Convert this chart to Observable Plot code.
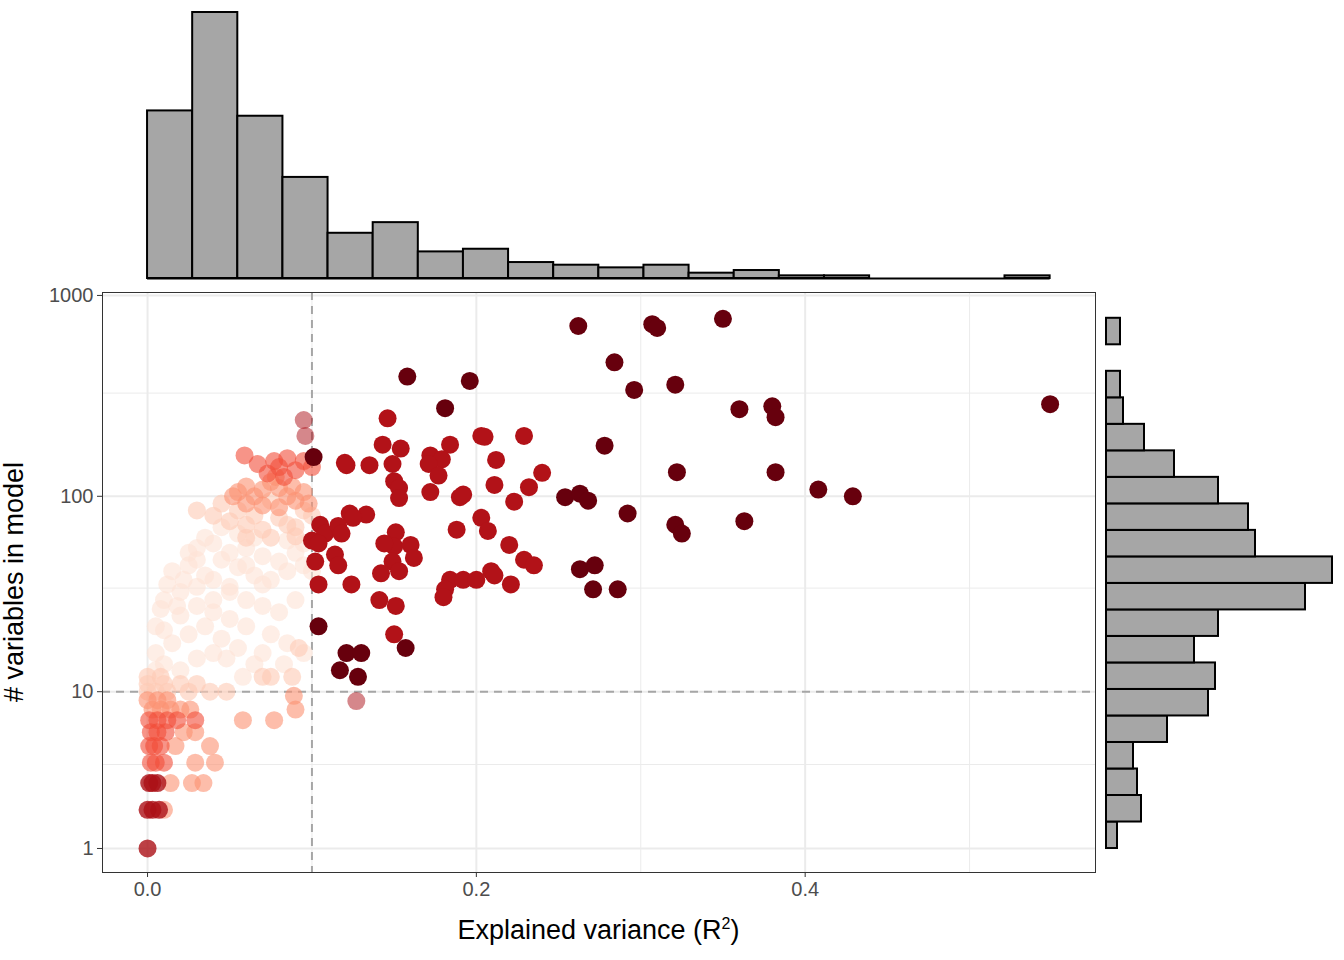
<!DOCTYPE html>
<html><head><meta charset="utf-8">
<script src="https://cdn.jsdelivr.net/npm/d3@7"></script>
<script src="https://cdn.jsdelivr.net/npm/@observablehq/plot@0.6"></script>
<style>
body{margin:0;background:#fff;font-family:"Liberation Sans",Arial,sans-serif;}
#c{position:relative;width:1344px;height:960px;}
#c svg{position:absolute;overflow:visible;}
</style></head><body><div id="c"></div>
<script>
// points [x, y]
const darkPts = [[0.262,705],[0.307,720],[0.310,690],[0.350,765],[0.284,465],[0.158,395],[0.196,376],[0.296,339],[0.321,360],[0.360,272],[0.380,281],[0.382,248],[0.549,288],[0.181,275],[0.322,132],[0.382,132],[0.408,108],[0.429,100],[0.292,82],[0.321,72],[0.325,65],[0.363,75],[0.263,43],[0.272,45],[0.271,34],[0.286,34],[0.278,179],[0.254,99],[0.263,103],[0.268,95],[0.104,22],[0.157,17],[0.121,16],[0.130,16],[0.117,13],[0.128,12],[0.101,157]];
const redPts = [[0.146,245],[0.229,200],[0.203,200],[0.205,198],[0.143,181],[0.154,173],[0.184,181],[0.120,147],[0.121,143],[0.135,143],[0.149,145],[0.172,160],[0.179,153],[0.171,145],[0.212,152],[0.240,131],[0.150,119],[0.153,110],[0.177,127],[0.211,114],[0.232,111],[0.153,98],[0.172,105],[0.190,99],[0.192,102],[0.223,94],[0.123,82],[0.133,81],[0.125,78],[0.105,72],[0.108,65],[0.116,71],[0.118,65],[0.203,78],[0.207,67],[0.188,68],[0.151,66],[0.150,56],[0.160,57],[0.144,58],[0.220,57],[0.100,60],[0.104,58],[0.114,51],[0.162,49],[0.229,48],[0.235,45],[0.149,47],[0.102,47],[0.116,45],[0.153,42],[0.209,42],[0.211,40],[0.142,41],[0.104,36],[0.124,36],[0.184,38],[0.192,38],[0.200,38],[0.221,36],[0.181,34],[0.180,31],[0.141,30],[0.151,28],[0.150,20]];
const mauvePts = [[0.127,8.9],[0.095,240],[0.096,200]];
const palePts = [[0.005,13],[0.01,14],[0.02,13],[0.03,15],[0.04,16],[0.015,18],[0.025,20],[0.035,22],[0.045,19],[0.055,17],[0.065,14],[0.07,16],[0.005,16],[0.01,21],[0.02,25],[0.03,28],[0.04,26],[0.05,24],[0.06,22],[0.075,20],[0.085,18],[0.095,16],[0.01,30],[0.02,33],[0.03,35],[0.04,38],[0.05,33],[0.06,30],[0.07,28],[0.08,26],[0.09,30],[0.015,42],[0.025,45],[0.035,40],[0.045,48],[0.055,44],[0.065,40],[0.075,38],[0.085,42],[0.095,45],[0.03,55],[0.04,58],[0.05,52],[0.06,55],[0.07,50],[0.08,47],[0.09,52],[0.055,65],[0.045,70],[0.065,62],[0.035,62],[0.025,52],[0.012,36],[0.008,27],[0.018,28],[0.1,42],[0.095,58],[0.085,60],[0.04,30],[0.05,35],[0.06,45],[0.07,36],[0.03,48],[0.022,38],[0.005,22],[0.048,15],[0.058,12],[0.083,14]];
const lightPts = [[0.03,85],[0.04,80],[0.05,75],[0.06,72],[0.07,68],[0.08,78],[0.095,85],[0.1,80],[0.09,70],[0.045,92],[0.055,85],[0.065,80],[0.075,95],[0.06,62],[0.075,62],[0.09,63],[0.085,72],[0.0,11],[0.01,11],[0.02,11],[0.03,11],[0.0,12],[0.008,12],[0.07,12],[0.075,12],[0.088,12],[0.092,17],[0.012,10],[0.025,10],[0.038,10],[0.048,10],[0.0,10],[0.005,10]];
const salmonPts = [[0.055,105],[0.06,112],[0.065,100],[0.07,108],[0.075,118],[0.08,110],[0.085,100],[0.09,95],[0.095,105],[0.06,92],[0.07,90],[0.08,88],[0.088,112],[0.098,92],[0.052,100],[0.078,125],[0.003,8],[0.008,8],[0.014,8],[0.02,8],[0.026,8],[0.09,8],[0.0,9],[0.006,9],[0.012,9],[0.089,9.5],[0.058,7],[0.077,7],[0.017,5],[0.038,5],[0.022,6],[0.029,6],[0.029,4],[0.041,4],[0.014,3],[0.027,3],[0.034,3],[0.01,2]];
const redLeftPts = [[0.059,160],[0.067,145],[0.073,130],[0.08,140],[0.085,155],[0.09,135],[0.095,150],[0.083,125],[0.077,150],[0.1,140],[0.001,7],[0.006,7],[0.012,7],[0.018,7],[0.029,7],[0.002,6],[0.006,6],[0.011,6],[0.001,5],[0.004,5],[0.008,5],[0.002,4],[0.005,4],[0.01,4]];
const deepLeftPts = [[0.001,3],[0.003,3],[0.006,3],[0.0,2],[0.003,2],[0.007,2],[0.0,1]];

// marginal histograms (precomputed counts)
const topBinStart = 0, topBinWidth = 0.02745;
const topCounts = [63,100,61,38,17,21,10,11,6,5,4,5,2,3,1,1,0,0,0,1];
const rightBinStart = 0.255, rightBinWidth = 0.1316; // in log10(y+0.8) units
const rightCounts = [11,35,31,27,61,102,109,88,112,199,226,149,142,112,68,38,17,14,0,14];

const xTicks = [0, 0.2, 0.4];
const xMinor = [0.1, 0.3, 0.5];
const yTicks = [1, 10, 100, 1000];
const yMinor = [3.9, 34.5, 327];

// pseudo-log y transform
const T = v => Math.log10(v + 0.8);
const Tinv = t => String(Math.round(Math.pow(10, t) - 0.8));
const Y_DOM = [0.136, 3.015];

const mk = (arr, shade, op) => arr.map(([x, y]) => ({x, y, shade, op}));
const pts = [
  ...mk(palePts, 0.1, 0.6), ...mk(lightPts, 0.2, 0.6), ...mk(salmonPts, 0.38, 0.6),
  ...mk(redLeftPts, 0.58, 0.6), ...mk(deepLeftPts, 0.85, 0.8), ...mk(mauvePts, 0.85, 0.5),
  ...mk(redPts, 0.83, 1), ...mk(darkPts, 1, 1)
];

const X_DOM = [-0.0274, 0.5766];
const W_MAIN = 1100;
const host = document.getElementById("c");
const txt = {fontFamily: "Liberation Sans, Arial, sans-serif"};

const mainPlot = Plot.plot({
  width: W_MAIN, height: 960, marginTop: 292, marginBottom: 88, marginLeft: 102, marginRight: 5,
  style: {...txt, fontSize: "20px", color: "#4d4d4d", background: "transparent"},
  x: {domain: X_DOM, label: null},
  y: {domain: Y_DOM, label: null},
  color: {type: "linear", scheme: "reds", domain: [0, 1]},
  marks: [
    Plot.ruleX(xMinor, {stroke: "#ebebeb", strokeWidth: 1}),
    Plot.ruleY(yMinor.map(T), {stroke: "#ebebeb", strokeWidth: 1}),
    Plot.ruleX(xTicks, {stroke: "#ebebeb", strokeWidth: 2}),
    Plot.ruleY(yTicks.map(T), {stroke: "#ebebeb", strokeWidth: 2}),
    Plot.ruleX([0.1], {stroke: "#a6a6a6", strokeWidth: 2, strokeDasharray: "8,6"}),
    Plot.ruleY([T(10)], {stroke: "#a6a6a6", strokeWidth: 2, strokeDasharray: "8,6"}),
    Plot.dot(pts, {x: "x", y: d => T(d.y), r: 9, fill: "shade", fillOpacity: "op", stroke: "none"}),
    Plot.frame({stroke: "#333", strokeWidth: 1}),
    Plot.axisX(xTicks, {tickFormat: d3.format(".1f"), tickSize: 5, tickPadding: 4, label: null, stroke: "#333"}),
    Plot.axisY(yTicks.map(T), {tickFormat: Tinv, tickSize: 5, tickPadding: 4, label: null, stroke: "#333"})
  ]
});
mainPlot.style.left = "0px"; mainPlot.style.top = "0px";
host.appendChild(mainPlot);

const topBins = topCounts.map((n, i) => ({x1: topBinStart + i * topBinWidth, x2: topBinStart + (i + 1) * topBinWidth, n}));
const topPlot = Plot.plot({
  width: W_MAIN, height: 290, marginTop: 12, marginBottom: 12, marginLeft: 102, marginRight: 5,
  style: {background: "transparent"},
  x: {domain: X_DOM, axis: null}, y: {domain: [0, 100], axis: null},
  marks: [
    Plot.ruleY([0], {x1: topBinStart, x2: topBinStart + topCounts.length * topBinWidth, stroke: "#000", strokeWidth: 2}),
    Plot.rectY(topBins, {x1: "x1", x2: "x2", y: "n", fill: "#a6a6a6", stroke: "#000", strokeWidth: 2, inset: 0})
  ]
});
topPlot.style.left = "0px"; topPlot.style.top = "0px";
host.appendChild(topPlot);

const rightBins = rightCounts.map((n, i) => ({y1: rightBinStart + i * rightBinWidth, y2: rightBinStart + (i + 1) * rightBinWidth, n}));
const rightPlot = Plot.plot({
  width: 244, height: 960, marginTop: 292, marginBottom: 88, marginLeft: 6, marginRight: 12,
  style: {background: "transparent"},
  y: {domain: Y_DOM, axis: null}, x: {domain: [0, 226], axis: null},
  marks: [Plot.rectX(rightBins, {y1: "y1", y2: "y2", x: "n", fill: "#a6a6a6", stroke: "#000", strokeWidth: 2, inset: 0})]
});
rightPlot.style.left = "1100px"; rightPlot.style.top = "0px";
host.appendChild(rightPlot);

const xl = document.createElement("div");
xl.innerHTML = "Explained variance (R<sup style='font-size:16px'>2</sup>)";
Object.assign(xl.style, {position: "absolute", left: "102px", width: "993px", top: "915px", textAlign: "center", fontSize: "27px", color: "#000"});
host.appendChild(xl);
const yl = document.createElement("div");
yl.textContent = "# variables in model";
Object.assign(yl.style, {position: "absolute", left: "14px", top: "582px", transform: "translate(-50%,-50%) rotate(-90deg)", whiteSpace: "nowrap", fontSize: "27px", color: "#000"});
host.appendChild(yl);
</script></body></html>
